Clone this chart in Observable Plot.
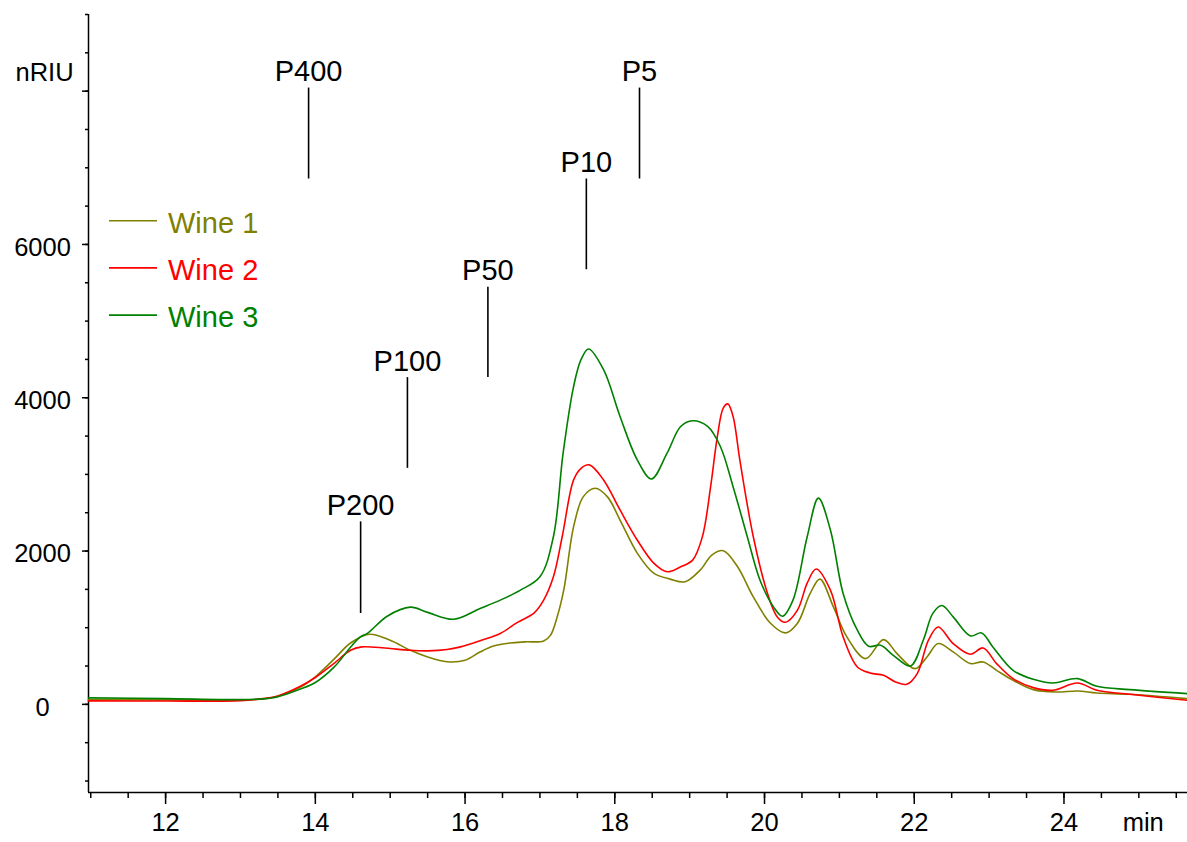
<!DOCTYPE html>
<html>
<head>
<meta charset="utf-8">
<script src="https://cdn.jsdelivr.net/npm/d3@7"></script>
<script src="https://cdn.jsdelivr.net/npm/@observablehq/plot@0.6"></script>
<style>
  html, body { margin: 0; padding: 0; background: #fff; }
  #chart svg { display: block; }
</style>
</head>
<body>
<div id="chart"></div>
<script>
// ---- Data ----
const seriesNames = ["Wine 1", "Wine 2", "Wine 3"];
const seriesColors = ["#808000", "#ff0000", "#008000"];

// [time (min), signal (nRIU)]
const wine1Points = [
  [10.97, 60], [12.0, 58], [13.0, 55], [13.3, 70], [13.5, 105], [13.8, 225], [14.0, 360],
  [14.25, 590], [14.47, 800], [14.72, 915], [15.0, 835], [15.27, 705], [15.5, 618],
  [15.76, 555], [16.0, 575], [16.2, 683], [16.38, 760], [16.6, 800], [16.8, 815],
  [17.05, 827], [17.14, 900], [17.23, 1140], [17.32, 1500], [17.45, 2318], [17.58, 2710],
  [17.74, 2820], [17.9, 2710], [18.07, 2405], [18.3, 1973], [18.52, 1712], [18.74, 1634],
  [18.94, 1599], [19.14, 1751], [19.3, 1950], [19.45, 2004], [19.64, 1795], [19.85, 1403],
  [20.08, 1058], [20.28, 932], [20.44, 1058], [20.61, 1447], [20.74, 1634], [20.92, 1272],
  [21.1, 880], [21.35, 597], [21.59, 845], [21.77, 662], [22.01, 466], [22.17, 618],
  [22.32, 793], [22.52, 684], [22.75, 532], [22.92, 553], [23.1, 444], [23.32, 314],
  [23.59, 192], [23.9, 161], [24.18, 174], [24.44, 148], [24.88, 131], [25.65, 74]
];
const wine2Points = [
  [10.97, 45], [12.0, 43], [13.0, 48], [13.3, 75], [13.5, 110], [13.8, 235], [14.0, 350],
  [14.25, 535], [14.47, 705], [14.62, 750], [14.8, 745], [15.0, 728], [15.27, 705],
  [15.5, 698], [15.76, 715], [15.94, 750], [16.2, 830], [16.47, 925], [16.7, 1070],
  [16.92, 1190], [17.05, 1360], [17.18, 1664], [17.3, 2200], [17.45, 2928], [17.55, 3080],
  [17.66, 3124], [17.85, 2928], [18.07, 2536], [18.3, 2144], [18.52, 1843], [18.7, 1730],
  [18.88, 1795], [19.04, 1882], [19.17, 2187], [19.28, 2840], [19.37, 3494], [19.45, 3869],
  [19.51, 3920], [19.58, 3756], [19.67, 3190], [19.85, 2187], [20.04, 1447], [20.17, 1141],
  [20.28, 1072], [20.44, 1229], [20.57, 1582], [20.69, 1765], [20.88, 1490], [21.05, 880],
  [21.24, 488], [21.41, 409], [21.59, 379], [21.75, 292], [21.9, 261], [22.04, 401],
  [22.19, 837], [22.32, 1010], [22.52, 793], [22.75, 653], [22.92, 736], [23.1, 532],
  [23.32, 336], [23.59, 218], [23.85, 183], [24.18, 279], [24.44, 183], [24.88, 131],
  [25.65, 52]
];
const wine3Points = [
  [10.97, 85], [12.0, 75], [13.0, 62], [13.3, 72], [13.5, 100], [13.8, 200], [14.0, 285],
  [14.25, 485], [14.47, 745], [14.6, 880], [14.7, 930], [14.96, 1150], [15.27, 1268],
  [15.5, 1200], [15.85, 1110], [16.2, 1250], [16.47, 1360], [16.74, 1490], [17.0, 1664],
  [17.18, 2187], [17.31, 3280], [17.45, 4148], [17.55, 4500], [17.65, 4636], [17.85, 4366],
  [18.07, 3756], [18.3, 3190], [18.49, 2941], [18.7, 3280], [18.88, 3625], [19.04, 3699],
  [19.24, 3625], [19.41, 3364], [19.58, 2840], [19.77, 2187], [19.94, 1620], [20.12, 1272],
  [20.24, 1150], [20.38, 1360], [20.57, 2187], [20.72, 2690], [20.88, 2275], [21.05, 1447],
  [21.24, 967], [21.39, 758], [21.55, 771], [21.72, 640], [21.95, 501], [22.12, 837],
  [22.25, 1190], [22.37, 1290], [22.52, 1141], [22.75, 893], [22.9, 932], [23.05, 749],
  [23.32, 444], [23.59, 327], [23.85, 279], [24.18, 336], [24.44, 235], [24.88, 192],
  [25.65, 140]
];

// Calibration markers (pullulan standards)
const peakLabels = ["P400", "P200", "P100", "P50", "P10", "P5"];
const peakTime   = [13.91, 14.605, 15.23, 16.305, 17.62, 18.33];
const peakTop    = [8040, 2381, 4263, 5443, 6854, 8040];
const peakBottom = [6854, 1185, 3079, 4263, 5670, 6854];

// Axes
const xDomain = [10.97, 25.65];
const yDomain = [-1150, 9000];
const xTicksMajor = [12, 14, 16, 18, 20, 22, 24];
const xTicksMinor = [11, 11.5, 12, 12.5, 13, 13.5, 14, 14.5, 15, 15.5, 16, 16.5, 17, 17.5,
                     18, 18.5, 19, 19.5, 20, 20.5, 21, 21.5, 22, 22.5, 23, 23.5, 24, 24.5, 25, 25.5];
const yTicksLabeled = [0, 2000, 4000, 6000];
const yTicksMajor = [0, 2000, 4000, 6000, 8000];
const yTicksMinor = [-1000, -500, 0, 500, 1000, 1500, 2000, 2500, 3000, 3500, 4000, 4500, 5000,
                     5500, 6000, 6500, 7000, 7500, 8000, 8500, 9000];
const xTitle = "min";
const yTitle = "nRIU";

// ---- Build tables ----
const seriesPoints = [wine1Points, wine2Points, wine3Points];
const series = seriesNames.map((name, i) => ({
  name,
  color: seriesColors[i],
  rows: seriesPoints[i].map(([t, v]) => ({t, v}))
}));
const peaks = peakLabels.map((label, i) => ({
  label, t: peakTime[i], top: peakTop[i], bottom: peakBottom[i]
}));

const FONT = "'Liberation Sans', Arial, Helvetica, sans-serif";

const chart = Plot.plot({
  width: 1187,
  height: 842,
  marginLeft: 88,
  marginRight: 0,
  marginTop: 14,
  marginBottom: 50,
  style: {fontFamily: FONT, fontSize: "25.5px", color: "#000", background: "#fff", overflow: "visible"},
  x: {domain: xDomain},
  y: {domain: yDomain},
  marks: [
    // axis lines
    Plot.ruleX([xDomain[0]], {stroke: "#000", strokeWidth: 1.5}),
    Plot.ruleY([yDomain[0]], {stroke: "#000", strokeWidth: 1.5}),
    // x ticks
    Plot.axisX({ticks: xTicksMinor, tickSize: 6, tickFormat: () => "", label: null, strokeWidth: 1.5}),
    Plot.axisX({ticks: xTicksMajor, tickSize: 12, tickPadding: 8.6, label: null, strokeWidth: 1.5,
                tickFormat: d3.format("d"), fontSize: 25.5}),
    // y ticks
    Plot.axisY({ticks: yTicksMinor, tickSize: 3, tickFormat: () => "", label: null, strokeWidth: 1.5}),
    Plot.axisY({ticks: yTicksMajor, tickSize: 6, tickFormat: () => "", label: null, strokeWidth: 1.5}),
    Plot.axisY({ticks: yTicksLabeled, tickSize: 0, tickPadding: 46, textAnchor: "middle", dy: 3,
                label: null, tickFormat: d3.format("d"), fontSize: 25.5}),
    // axis titles
    Plot.text([yTitle], {text: d => d, frameAnchor: "top-left", dx: -73, dy: 66,
                         textAnchor: "start", lineAnchor: "bottom", fontSize: 25.5}),
    Plot.text([xTitle], {text: d => d, frameAnchor: "bottom-right", dx: -23.7, dy: 38.7,
                         textAnchor: "end", lineAnchor: "bottom", fontSize: 25.5}),
    // curves
    ...series.map(s => Plot.line(s.rows, {
      x: "t", y: "v", stroke: s.color, strokeWidth: 1.6, curve: "catmull-rom"
    })),
    // calibration markers
    Plot.ruleX(peaks, {x: "t", y1: "bottom", y2: "top", stroke: "#000", strokeWidth: 1.6}),
    Plot.text(peaks, {x: "t", y: "top", text: "label", dy: -7, lineAnchor: "bottom",
                      fontSize: 29, fill: "#000"})
  ]
});

// In-plot legend (top-left of the frame)
const svg = d3.select(chart);
const legend = svg.append("g")
  .attr("font-family", FONT)
  .attr("font-size", 29)
  .attr("text-anchor", "start");
series.forEach((s, i) => {
  const y = 220.7 + i * 47.2;
  legend.append("line")
    .attr("x1", 109).attr("x2", 157).attr("y1", y).attr("y2", y)
    .attr("stroke", s.color).attr("stroke-width", 1.6);
  legend.append("text")
    .attr("x", 168).attr("y", y + 12)
    .attr("text-anchor", "start")
    .attr("fill", s.color)
    .text(s.name);
});

document.getElementById("chart").appendChild(chart);
</script>
</body>
</html>
